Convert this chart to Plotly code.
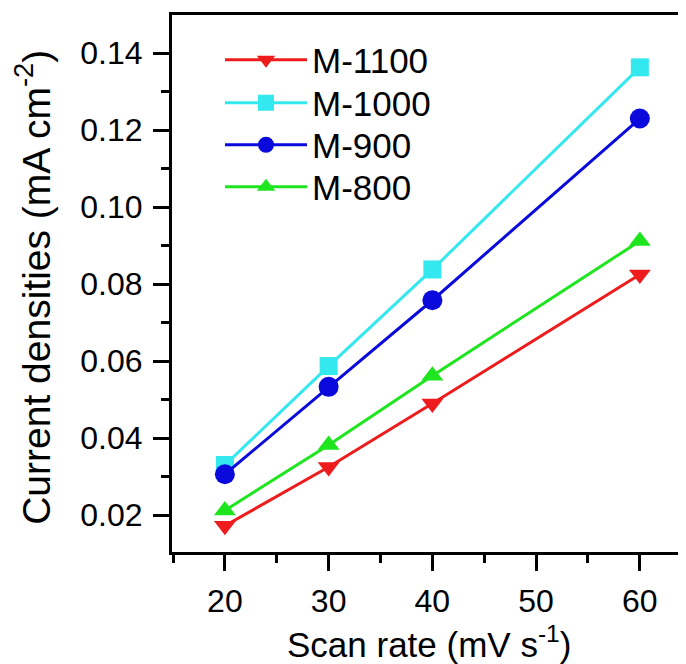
import plotly.graph_objects as go

scan_rate = [20, 30, 40, 60]
series_names = ["M-1100", "M-1000", "M-900", "M-800"]
m1100 = [0.0172, 0.0325, 0.0490, 0.0825]
m1000 = [0.0330, 0.0587, 0.0838, 0.1363]
m900 = [0.0306, 0.0533, 0.0758, 0.1230]
m800 = [0.0212, 0.0382, 0.0562, 0.0912]

x_ticks = [20, 30, 40, 50, 60]
y_ticks = [0.02, 0.04, 0.06, 0.08, 0.10, 0.12, 0.14]
x_title = "Scan rate (mV s<sup>-1</sup>)"
y_title = "Current densities (mA cm<sup>-2</sup>)"

colors = ["#EE1C1C", "#33E8EE", "#0A0ADD", "#1EE61E"]
symbols = ["triangle-down", "square", "circle", "triangle-up"]
sizes = [19, 18, 20, 19]
legend_ids = ["legend", "legend2", "legend3", "legend4"]
legend_rows = [0.9162, 0.8361, 0.7579, 0.6797]

FONT = "Arial, Liberation Sans, sans-serif"

fig = go.Figure()
for name, vals, c, s, sz, lg in zip(series_names, [m1100, m1000, m900, m800],
                                    colors, symbols, sizes, legend_ids):
    fig.add_trace(go.Scatter(
        x=scan_rate, y=vals, name=name, mode="lines+markers",
        line=dict(color=c, width=3),
        marker=dict(color=c, symbol=s, size=sz, line=dict(width=0)),
        cliponaxis=False, legend=lg,
    ))

legend_common = dict(
    x=0.0934, xanchor="left", yanchor="middle",
    bgcolor="rgba(0,0,0,0)", borderwidth=0,
    font=dict(size=35, family=FONT, color="black"),
    itemwidth=82,
)
legend_layout = {}
for lg, yy in zip(legend_ids, legend_rows):
    legend_layout[lg] = dict(legend_common, y=yy)

fig.update_layout(
    width=678, height=656,
    margin=dict(l=164, r=0, t=7, b=112),
    paper_bgcolor="white", plot_bgcolor="white",
    font=dict(family=FONT, color="black", size=32),
    showlegend=True,
    xaxis=dict(
        range=[14.9, 64.45], showgrid=False, zeroline=False,
        showline=True, linecolor="black", linewidth=3, mirror=True,
        ticks="outside", ticklen=16, tickwidth=3, tickcolor="black",
        tickmode="array", tickvals=x_ticks,
        ticktext=[str(v) for v in x_ticks],
        tickfont=dict(size=32, family=FONT),
        ticklabelstandoff=3,
        minor=dict(ticks="outside", ticklen=8, tickwidth=3, tickcolor="black",
                   tickvals=[15, 25, 35, 45, 55]),
    ),
    yaxis=dict(
        range=[0.0104, 0.1499], showgrid=False, zeroline=False,
        showline=True, linecolor="black", linewidth=3, mirror=False,
        ticks="outside", ticklen=16, tickwidth=3, tickcolor="black",
        tickmode="array", tickvals=y_ticks,
        ticktext=[f"{v:.2f}" for v in y_ticks],
        tickfont=dict(size=32, family=FONT),
        ticklabelstandoff=4,
        minor=dict(ticks="outside", ticklen=8, tickwidth=3, tickcolor="black",
                   tickvals=[0.01, 0.03, 0.05, 0.07, 0.09, 0.11, 0.13]),
    ),
    annotations=[
        dict(text=x_title, xref="paper", yref="paper", x=0.5, y=-0.168,
             xanchor="center", yanchor="middle", showarrow=False,
             font=dict(size=35, family=FONT, color="black")),
        dict(text=y_title, xref="paper", yref="paper", x=-0.2704, y=0.492,
             xanchor="center", yanchor="middle", showarrow=False, textangle=-90,
             font=dict(size=39, family=FONT, color="black")),
    ],
    **legend_layout,
)

fig.write_html("out.html")
